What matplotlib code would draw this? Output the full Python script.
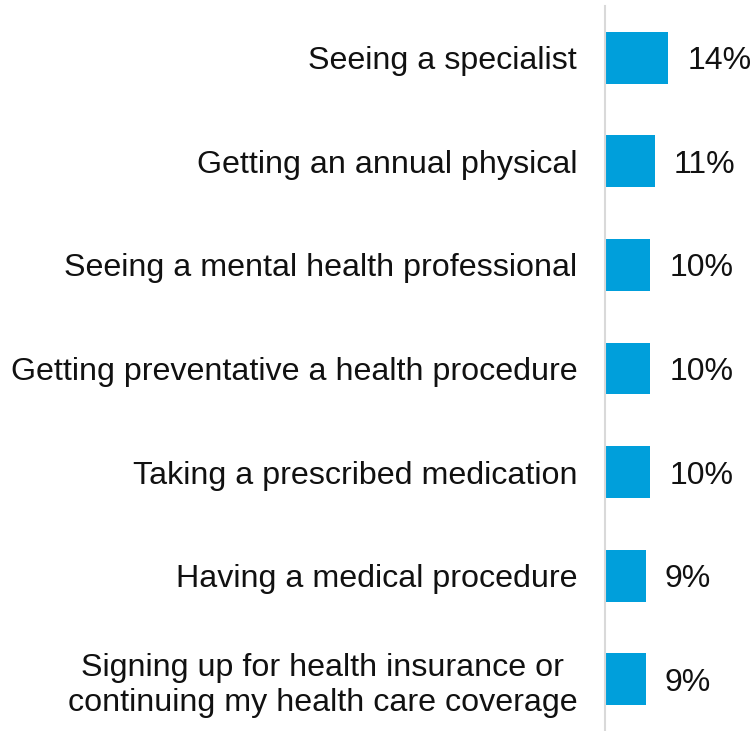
import matplotlib.pyplot as plt
import numpy as np

labels = [
    "Seeing a specialist",
    "Getting an annual physical",
    "Seeing a mental health professional",
    "Getting preventative a health procedure",
    "Taking a prescribed medication",
    "Having a medical procedure",
    "Signing up for health insurance or\ncontinuing my health care coverage",
]
values = [14, 11, 10, 10, 10, 9, 9]

bar_color = "#009fdb"

plt.rcParams["font.family"] = ["Liberation Sans", "DejaVu Sans"]

fig = plt.figure(figsize=(7.53, 7.31), dpi=100)
ax = fig.add_axes([605 / 753, 0.0, 148 / 753, 725 / 731])

y = np.arange(len(labels))
ax.barh(y, values, height=0.5, color=bar_color)

for yi, v in zip(y, values):
    ax.text(v + 4.3, yi, "%d%%" % v, va="center_baseline", ha="left",
            fontsize=23, color="#111111")

ax.set_xlim(0, 148 / 4.5)
ax.set_ylim(len(labels) - 0.5, -0.5)
ax.set_yticks(y)
ax.set_yticklabels(labels, fontsize=23.2, color="#111111")
for t in ax.get_yticklabels():
    t.set_multialignment("center")
    t.set_linespacing(1.25)
ax.tick_params(axis="y", length=0, pad=20)
ax.set_xticks([])

for s in ["top", "right", "bottom"]:
    ax.spines[s].set_visible(False)
ax.spines["left"].set_color("#d9d9d9")
ax.spines["left"].set_linewidth(1.5)

fig.savefig("out.png", dpi=100)
